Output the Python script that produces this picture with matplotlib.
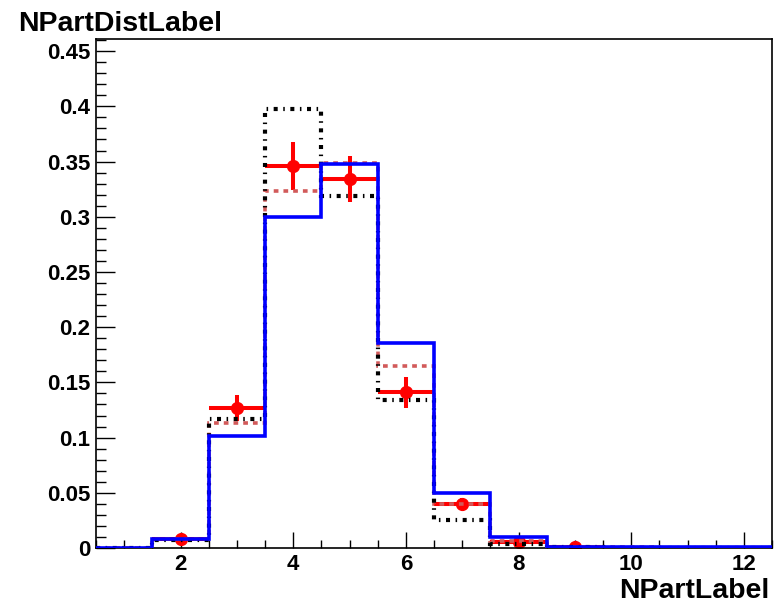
import numpy as np
import matplotlib
matplotlib.use("Agg")
from matplotlib import pyplot as plt
from matplotlib.ticker import MultipleLocator

# bin centres 1..12, width 1
edges = np.arange(0.5, 13.0, 1.0)

blue = [0.0, 0.008, 0.101, 0.300, 0.348, 0.186, 0.050, 0.010, 0.001, 0.001, 0.001, 0.001]
red_dash = [0.0, 0.008, 0.113, 0.323, 0.349, 0.165, 0.040, 0.006, 0.001, 0.0005, 0.0003, 0.0002]
black = [0.0, 0.007, 0.117, 0.398, 0.319, 0.134, 0.025, 0.004, 0.0005, 0.0, 0.0, 0.0]

data_x = [2, 3, 4, 5, 6, 7, 8, 9]
data_y = [0.008, 0.127, 0.346, 0.334, 0.141, 0.040, 0.005, 0.001]
data_err = [0.002, 0.012, 0.022, 0.021, 0.014, 0.005, 0.004, 0.001]

plt.rcParams['font.family'] = ['Liberation Sans', 'DejaVu Sans']
plt.rcParams['font.weight'] = 'bold'
plt.rcParams['lines.scale_dashes'] = False

fig = plt.figure(figsize = (7.75, 6.05), dpi = 100)
ax = fig.add_axes([96/775, 1 - 548/605, (772 - 96)/775, (548 - 39)/605])

# data points
ax.errorbar(data_x, data_y, xerr = 0.5, yerr = data_err, fmt = "o", color = "red",
	markersize = 8.5, elinewidth = 2.9, capsize = 0, zorder = 2)
ax.stairs(red_dash, edges, color = "#d25a5a", linewidth = 2.6,
	linestyle = (0, (3.4, 3.6)), zorder = 3)
ax.stairs(black, edges, color = "black", linewidth = 3.0,
	linestyle = (0, (2.9, 4.0, 1.1, 4.0)), zorder = 4)
ax.stairs(blue, edges, color = "blue", linewidth = 2.6, zorder = 5)

ax.set_xlim(0.5, 12.5)
ax.set_ylim(0, 0.461)
ax.xaxis.set_major_locator(MultipleLocator(2))
ax.xaxis.set_minor_locator(MultipleLocator(0.5))
ax.yaxis.set_major_locator(MultipleLocator(0.05))
ax.yaxis.set_minor_locator(MultipleLocator(0.01))

def yfmt(v, pos):
	s = "%.2f" % v
	s = s.rstrip("0").rstrip(".")
	return s
ax.yaxis.set_major_formatter(plt.FuncFormatter(yfmt))

ax.tick_params(which = "both", direction = "in", top = False, right = False,
	width = 1, color = "black", labelsize = 16)
ax.tick_params(axis = "y", which = "major", length = 14, pad = 4)
ax.tick_params(axis = "y", which = "minor", length = 7)
ax.tick_params(axis = "x", which = "major", length = 11.5, pad = 4)
ax.tick_params(axis = "x", which = "minor", length = 6)
for sp in ax.spines.values():
	sp.set_linewidth(1.2)

fig.text(18/775, 1 - 31/605, "NPartDistLabel", fontsize = 20.5, fontweight = "bold",
	ha = "left", va = "baseline")
fig.text(769/775, 1 - 598/605, "NPartLabel", fontsize = 20.5, fontweight = "bold",
	ha = "right", va = "baseline")

fig.savefig("out.png", dpi = 100)
